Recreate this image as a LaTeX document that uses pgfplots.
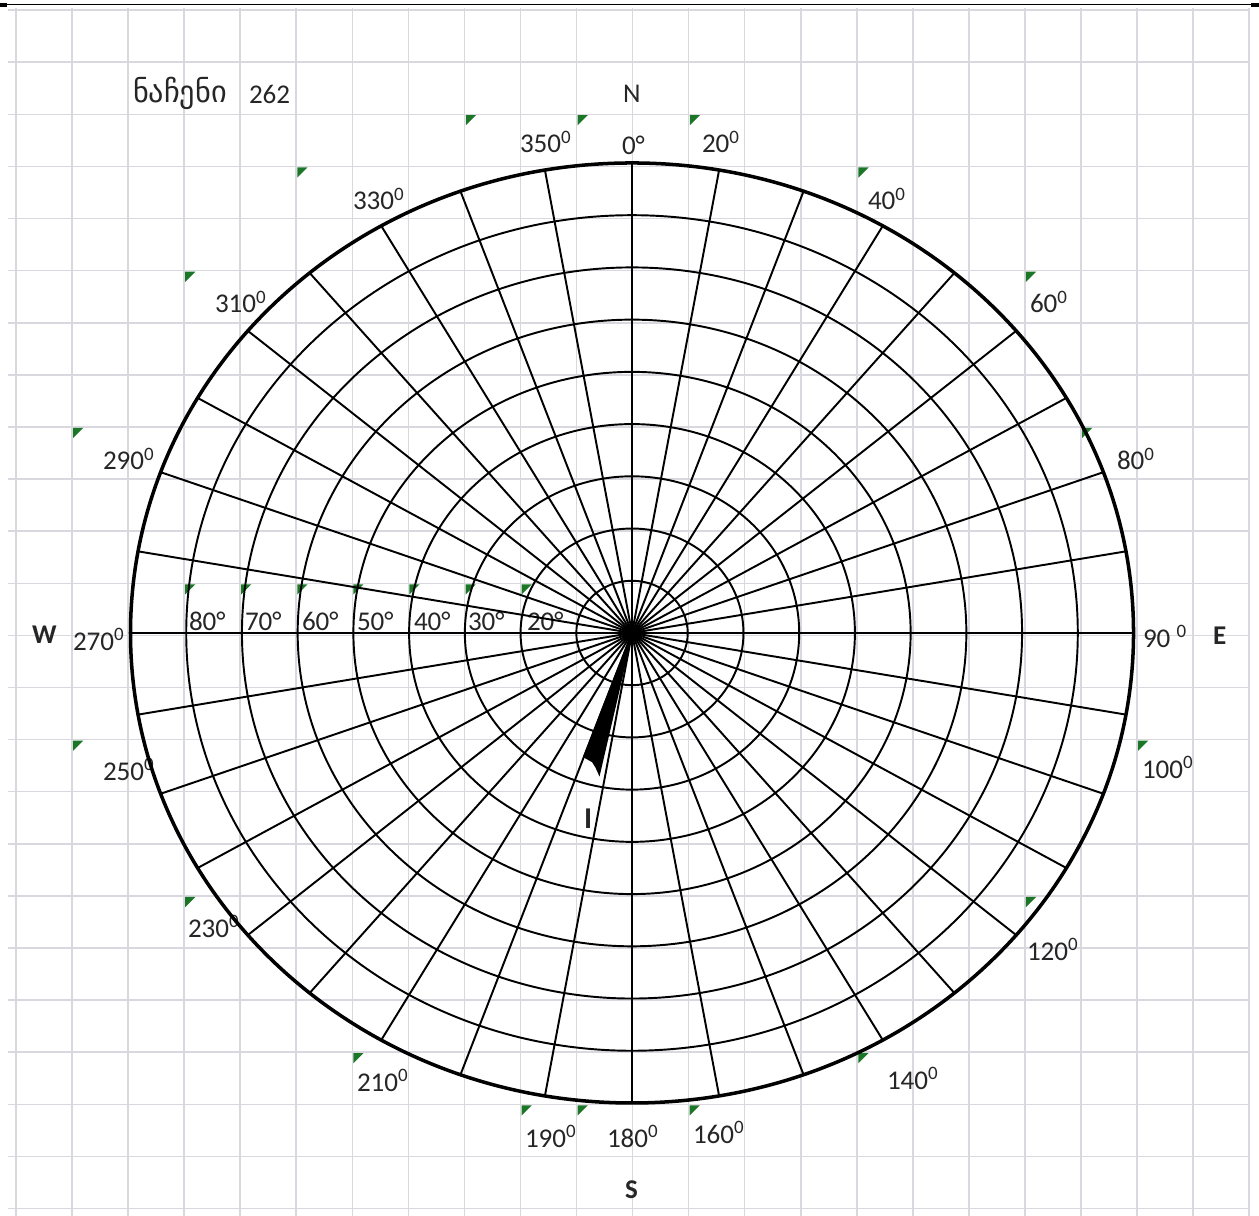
\documentclass[border=0pt]{standalone}
\usepackage{pgfplots}
\pgfplotsset{compat=1.18}
\usepackage{fontspec}
\setmainfont{Carlito}
\newfontfamily\geofont{DejaVu Sans}
\definecolor{xlgrid}{RGB}{216,216,222}
\definecolor{xlgreen}{RGB}{28,118,40}
\definecolor{txt}{RGB}{38,38,38}
\pgfdeclareplotmark{xltri}{%
  \pgfpathmoveto{\pgfpoint{0pt}{0pt}}%
  \pgfpathlineto{\pgfpoint{2.9pt}{0pt}}%
  \pgfpathlineto{\pgfpoint{0pt}{-2.9pt}}%
  \pgfpathclose\pgfusepathqfill}
\tikzset{lab/.style={font=\fontsize{7.7pt}{9pt}\selectfont, text=txt, inner sep=0pt, outer sep=0pt, anchor=base west}}
\begin{document}
\begin{tikzpicture}
\fill[white] (0,0) rectangle (12.59cm,12.16cm);
\path[use as bounding box] (0,0) rectangle (12.59cm,12.16cm);
% ---------- pixel-space axis: sheet grid, indicators, labels ----------
\begin{axis}[at={(0,0)}, anchor=south west, scale only axis,
  width=12.59cm, height=12.16cm, xmin=0, xmax=1259, ymin=0, ymax=1216,
  y dir=reverse, hide axis, clip=false]
  \pgfplotsinvokeforeach{0,...,22}{\draw[xlgrid, line width=0.45pt] (axis cs:{16+56.05*#1},8) -- (axis cs:{16+56.05*#1},1216);}
  \pgfplotsinvokeforeach{0,...,23}{\draw[xlgrid, line width=0.45pt] (axis cs:8,{10.2+52.1*#1}) -- (axis cs:1250,{10.2+52.1*#1});}
  \draw[black, line width=0.55pt] (axis cs:0,4.5) -- (axis cs:1259,4.5);
  \draw[black, line width=1pt] (axis cs:0,4.8) -- (axis cs:7,4.8);
  \draw[black, line width=1pt] (axis cs:1251,5) -- (axis cs:1259,5);
  \addplot[only marks, mark=xltri, color=xlgreen] coordinates {
    (465.8,115.2) (577.6,115.2) (689.8,115.2)
    (297.3,167.5) (858.3,167.5)
    (185.2,271.7) (1025.9,271.7)
    (73,428) (1082,428)
    (185.2,584.3) (241.2,584.3) (297.3,584.3) (353.3,584.3) (409.4,584.3) (465.5,584.3) (521.5,584.3)
    (73,740.6) (1138.1,740.6)
    (185.2,896.9) (1025.9,896.9)
    (353.3,1053.2) (858.3,1053.2)
    (521.5,1105.3) (577.6,1105.3) (689.6,1105.3)
  };
  \node[lab] at (axis cs:133,103) {\geofont\fontsize{8.6pt}{10pt}\selectfont ნაჩენი};
  \node[lab] at (axis cs:249,104) {262};
  \node[lab] at (axis cs:623,103) {N};
  \node[lab] at (axis cs:520,153) {350\textsuperscript{0}};
  \node[lab] at (axis cs:622,155) {0°};
  \node[lab] at (axis cs:702,153) {20\textsuperscript{0}};
  \node[lab] at (axis cs:353,210) {330\textsuperscript{0}};
  \node[lab] at (axis cs:868,210) {40\textsuperscript{0}};
  \node[lab] at (axis cs:215,313) {310\textsuperscript{0}};
  \node[lab] at (axis cs:1030,313) {60\textsuperscript{0}};
  \node[lab] at (axis cs:103,470) {290\textsuperscript{0}};
  \node[lab] at (axis cs:1117,470) {80\textsuperscript{0}};
  \node[lab] at (axis cs:32,643) {\bfseries W};
  \node[lab] at (axis cs:73,650) {270\textsuperscript{0}};
  \node[lab] at (axis cs:1143,647) {90 \textsuperscript{0}};
  \node[lab] at (axis cs:1213,644) {\bfseries E};
  \node[lab] at (axis cs:103,780) {250\textsuperscript{0}};
  \node[lab] at (axis cs:1142,778) {100\textsuperscript{0}};
  \node[lab] at (axis cs:188,937) {230\textsuperscript{0}};
  \node[lab] at (axis cs:1027,960) {120\textsuperscript{0}};
  \node[lab] at (axis cs:357,1091) {210\textsuperscript{0}};
  \node[lab] at (axis cs:887,1089) {140\textsuperscript{0}};
  \node[lab] at (axis cs:525,1147) {190\textsuperscript{0}};
  \node[lab] at (axis cs:607,1147) {180\textsuperscript{0}};
  \node[lab] at (axis cs:693,1143) {160\textsuperscript{0}};
  \node[lab] at (axis cs:625,1198) {\bfseries S};
  \node[lab] at (axis cs:189,630) {80°};
  \node[lab] at (axis cs:245,630) {70°};
  \node[lab] at (axis cs:302,630) {60°};
  \node[lab] at (axis cs:357,630) {50°};
  \node[lab] at (axis cs:414,630) {40°};
  \node[lab] at (axis cs:468,630) {30°};
  \node[lab] at (axis cs:527,630) {20°};
  \node[lab] at (axis cs:584,828) {\fontsize{8.6pt}{10pt}\selectfont\bfseries I};
\end{axis}
% ---------- polar chart in normalised units (r = 0..90) ----------
\begin{axis}[at={(0,0)}, anchor=south west, scale only axis,
  width=12.59cm, height=12.16cm,
  xmin=-113.42, xmax=112.52, ymin=-111.64, ymax=121.21,
  hide axis, clip=false]
  \pgfplotsinvokeforeach{10,20,...,80}{\draw[black, line width=0.55pt] (axis cs:0,0) ellipse [x radius=#1, y radius=#1];}
  \pgfplotsinvokeforeach{0,10,...,350}{\draw[black, line width=0.55pt] (axis cs:0,0) -- (axis cs:{90*sin(#1)},{90*cos(#1)});}
  \draw[black, line width=1.0pt] (axis cs:0,0) ellipse [x radius=90, y radius=90];
  \addplot[fill=black, draw=black, line width=0.5pt]
    table[x expr={\thisrow{r}*sin(\thisrow{a})}, y expr={\thisrow{r}*cos(\thisrow{a})}] {
a r
192.5 0
192.3 27.6
194 26.5
196 25.6
200 25.2
200.2 0
192.5 0
};
\end{axis}
\end{tikzpicture}
\end{document}
